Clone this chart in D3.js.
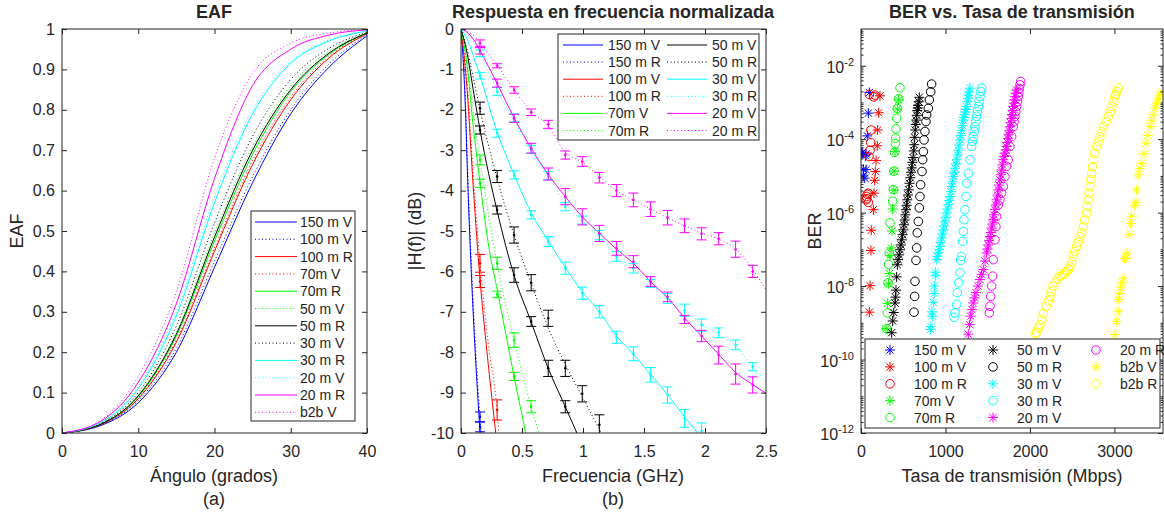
<!DOCTYPE html>
<html>
<head>
<meta charset="utf-8">
<script src="https://cdn.jsdelivr.net/npm/d3@7"></script>
<style>
body{margin:0;background:#fff;}
text{font-family:"Liberation Sans",Arial,Helvetica,sans-serif;fill:#262626;}
</style>
</head>
<body>
<svg id="chart" width="1164" height="513"></svg>
<script>
//--------------------- panel (a) : EAF vs angle
const eafAngle=[0,5,10,15,20,25,30,35,40];
const eaf150mV=[0,0.018,0.075,0.20,0.41,0.62,0.79,0.905,0.983];
const eaf100mV=[0,0.019,0.08,0.21,0.425,0.635,0.80,0.913,0.986];
const eaf100mR=[0,0.02,0.085,0.225,0.45,0.665,0.825,0.928,0.988];
const eaf70mV=[0,0.02,0.087,0.23,0.458,0.675,0.832,0.932,0.989];
const eaf70mR=[0,0.021,0.09,0.24,0.475,0.69,0.845,0.937,0.99];
const eaf50mV=[0,0.022,0.095,0.25,0.495,0.71,0.86,0.945,0.991];
const eaf50mR=[0,0.021,0.092,0.245,0.485,0.70,0.85,0.94,0.99];
const eaf30mV=[0,0.023,0.10,0.265,0.52,0.735,0.875,0.952,0.992];
const eaf30mR=[0,0.025,0.11,0.29,0.57,0.79,0.915,0.97,0.995];
const eaf20mV=[0,0.026,0.115,0.30,0.585,0.80,0.92,0.973,0.996];
const eaf20mR=[0,0.028,0.125,0.32,0.63,0.86,0.95,0.985,0.998];
const eafb2bV=[0,0.03,0.14,0.35,0.68,0.89,0.965,0.99,0.999];
const eafTicksX=[0,10,20,30,40];
const eafTicksY=[0,0.1,0.2,0.3,0.4,0.5,0.6,0.7,0.8,0.9,1];

//--------------------- panel (b) : normalised frequency response
// theory lines (freq GHz, dB)
const f150mV=[0,0.03,0.06,0.09,0.12,0.15,0.16], h150mV=[0,-1.5,-4.2,-6.4,-8.2,-9.7,-10.2];
const f150mR=[0,0.03,0.06,0.09,0.12,0.156,0.17], h150mR=[0,-1.3,-3.9,-6.1,-7.9,-9.6,-10.2];
const f100mV=[0,0.05,0.1,0.156,0.22,0.285], h100mV=[0,-1.5,-3.9,-6.2,-8.2,-10];
const f100mR=[0,0.05,0.1,0.156,0.22,0.296,0.31], h100mR=[0,-1.3,-3.6,-5.8,-7.7,-9.45,-10];
const f70mV=[0,0.05,0.1,0.156,0.232,0.3,0.435,0.53], h70mV=[0,-0.9,-2.4,-3.8,-5.47,-6.5,-8.6,-10];
const f70mR=[0,0.05,0.1,0.156,0.296,0.435,0.575,0.64], h70mR=[0,-0.8,-2.0,-3.24,-5.8,-7.7,-9.35,-10];
const f50mV=[0,0.05,0.1,0.156,0.296,0.435,0.575,0.715,0.855,0.95], h50mV=[0,-0.6,-1.5,-2.5,-4.5,-6.1,-7.25,-8.4,-9.35,-10];
const f50mR=[0,0.05,0.1,0.156,0.296,0.435,0.575,0.715,0.855,0.994,1.15], h50mR=[0,-0.5,-1.2,-2.0,-3.7,-5.1,-6.3,-7.4,-8.3,-9.1,-10];
const f30mV=[0,0.05,0.1,0.156,0.296,0.435,0.575,0.715,0.855,0.994,1.134,1.274,1.413,1.553,1.693,1.832,1.94];
const h30mV=[0,-0.25,-0.65,-1.16,-2.55,-3.6,-4.55,-5.25,-5.9,-6.5,-7.0,-7.6,-8.05,-8.55,-9.05,-9.6,-10];
const f30mR=[0,0.05,0.1,0.156,0.296,0.435,0.575,0.715,0.855,0.994,1.134,1.274,1.413,1.553,1.693,1.832,1.972,2.112,2.251,2.391,2.5];
const h30mR=[0,-0.1,-0.3,-0.6,-1.5,-2.25,-3.0,-3.65,-4.3,-4.75,-5.15,-5.6,-5.95,-6.3,-6.65,-6.95,-7.3,-7.55,-7.85,-8.35,-8.73];
const f20mV=[0,0.05,0.1,0.156,0.296,0.435,0.575,0.715,0.855,0.994,1.134,1.274,1.413,1.553,1.693,1.832,1.972,2.112,2.251,2.391,2.5];
const h20mV=[0,-0.08,-0.25,-0.54,-1.35,-2.2,-2.95,-3.6,-4.15,-4.65,-5.05,-5.45,-5.8,-6.25,-6.65,-7.15,-7.6,-8.05,-8.5,-8.8,-9.02];
const f20mR=[0,0.05,0.1,0.156,0.296,0.435,0.575,0.715,0.855,0.994,1.134,1.274,1.413,1.553,1.693,1.832,1.972,2.112,2.251,2.391,2.5];
const h20mR=[0,-0.05,-0.15,-0.35,-0.9,-1.5,-2.05,-2.4,-3.05,-3.3,-3.65,-4.0,-4.23,-4.45,-4.67,-4.87,-5.05,-5.2,-5.45,-5.95,-6.46];
// measured points (mean dB and half error), at measFreq[0..n-1]
const measFreq=[0.156,0.296,0.435,0.575,0.715,0.855,0.994,1.134,1.274,1.413,1.553,1.693,1.832,1.972,2.112,2.251,2.391];
const m150mV=[-9.85], e150mV=[0.12];
const m150mR=[-9.6], e150mR=[0.12];
const m100mV=[-6.25], e100mV=[0.15];
const m100mR=[-5.8,-9.43], e100mR=[0.22,0.25];
const m70mV=[-3.82,-6.57,-8.6], e70mV=[0.1,0.08,0.1];
const m70mR=[-3.24,-5.8,-7.7,-9.35], e70mR=[0.12,0.15,0.18,0.15];
const m50mV=[-2.5,-4.48,-6.09,-7.24,-8.4,-9.35], e50mV=[0.1,0.1,0.18,0.12,0.2,0.15];
const m50mR=[-1.96,-3.65,-5.1,-6.28,-7.16,-8.4,-9.03,-9.8], e50mR=[0.15,0.15,0.2,0.2,0.2,0.2,0.2,0.25];
const m30mV=[-1.16,-2.58,-3.61,-4.6,-5.26,-5.92,-6.54,-7.0,-7.63,-8.04,-8.56,-9.06,-9.64,-9.95];
const e30mV=[0.08,0.1,0.1,0.1,0.12,0.15,0.15,0.15,0.15,0.17,0.18,0.2,0.22,0.2];
const m30mR=[-0.6,-1.55,-2.2,-2.98,-3.63,-4.4,-4.73,-5.1,-5.63,-5.92,-6.3,-6.67,-6.96,-7.33,-7.52,-7.82,-8.36];
const e30mR=[0.08,0.1,0.1,0.1,0.1,0.1,0.1,0.12,0.12,0.12,0.1,0.12,0.15,0.15,0.12,0.12,0.1];
const m20mV=[-0.54,-1.34,-2.21,-2.95,-3.59,-4.15,-4.65,-5.06,-5.43,-5.76,-6.25,-6.63,-7.19,-7.6,-8.07,-8.54,-8.81];
const e20mV=[0.08,0.1,0.1,0.12,0.15,0.2,0.2,0.2,0.17,0.15,0.12,0.12,0.1,0.14,0.22,0.25,0.2];
const m20mR=[-0.35,-0.91,-1.51,-2.06,-2.36,-3.12,-3.28,-3.68,-4.0,-4.23,-4.46,-4.67,-4.87,-5.07,-5.19,-5.45,-6.0];
const e20mR=[0.08,0.05,0.08,0.08,0.1,0.1,0.12,0.13,0.15,0.17,0.18,0.18,0.17,0.15,0.15,0.2,0.15];
const frTicksX=[0,0.5,1,1.5,2,2.5];
const frTicksY=[0,-1,-2,-3,-4,-5,-6,-7,-8,-9,-10];

//--------------------- panel (c) : BER vs bit rate (rate Mbps, log10 BER)
const r150mV=[99,87,75,60,20,8,60,28,44,28,52];
const b150mV=[-2.73,-3.29,-3.91,-4.40,-4.36,-4.38,-4.83,-4.82,-5.06,-5.0,-4.45];
const r100mV=[225,209,197,193,178,170,162,154,146,122,118,107,99];
const b100mV=[-2.82,-3.28,-3.75,-4.18,-4.58,-4.88,-5.12,-5.47,-5.92,-6.48,-7.03,-7.99,-8.71];
const r100mR=[166,150,99,118,115,107,95,87,75,59,63,87,70];
const b100mR=[-2.8,-2.85,-2.78,-3.75,-4.09,-4.3,-4.47,-5.47,-5.5,-5.65,-5.56,-5.72,-5.62];
const r70mV=[446,430,402,390,390,375,367,359,343,335,327,312,296];
const b70mV=[-2.93,-3.18,-4.33,-4.87,-5.39,-5.9,-6.5,-6.96,-7.17,-7.66,-7.94,-8.47,-9.16];
const r70mR=[461,446,430,422,414,410,406,398,390,383,375,343,335,327,320,312,304];
const b70mR=[-2.6,-2.9,-3.16,-3.43,-3.72,-3.97,-4.12,-4.36,-4.87,-5.37,-5.69,-6.28,-7.10,-7.41,-7.91,-8.73,-9.16];
const r50mV=[690,684,676,672,666,660,654,648,642,636,630,624,616,608,600,592,584,574,564,556,548,540,533,525,517,509,501,492,482,472,462,452,440,430,422,414,408,402,388,375,363];
const b50mV=[-2.86,-2.98,-3.08,-3.15,-3.22,-3.35,-3.48,-3.6,-3.75,-3.95,-4.15,-4.32,-4.5,-4.63,-4.78,-4.9,-5.05,-5.2,-5.38,-5.52,-5.65,-5.8,-5.92,-6.06,-6.2,-6.33,-6.47,-6.6,-6.74,-6.88,-7.01,-7.15,-7.28,-7.42,-7.75,-8.11,-8.3,-8.46,-8.72,-8.95,-9.27];
const r50mR=[836,825,809,797,777,769,757,746,738,730,722,706,698,690,678,666,659,651,639,635,627];
const b50mR=[-2.5,-2.71,-2.93,-3.16,-3.34,-3.52,-3.79,-4.02,-4.34,-4.56,-4.88,-5.24,-5.56,-5.87,-6.24,-6.55,-6.96,-7.30,-7.87,-8.28,-8.71];
const r30mV=[1290,1282,1275,1268,1260,1251,1243,1235,1226,1218,1211,1200,1190,1181,1172,1162,1152,1143,1133,1123,1113,1103,1093,1083,1073,1064,1054,1044,1034,1024,1014,1004,994,985,975,965,955,945,935,925,915,905,896,884,880,868,866,856,844,840,824,828];
const b30mV=[-2.61,-2.72,-2.80,-2.88,-2.98,-3.11,-3.19,-3.26,-3.33,-3.41,-3.48,-3.63,-3.76,-3.90,-4.02,-4.16,-4.30,-4.43,-4.56,-4.67,-4.79,-4.90,-5.02,-5.16,-5.29,-5.43,-5.56,-5.67,-5.78,-5.90,-6.01,-6.13,-6.25,-6.36,-6.47,-6.58,-6.69,-6.81,-6.92,-7.01,-7.10,-7.19,-7.28,-7.72,-7.62,-8.0,-8.2,-8.44,-8.82,-8.7,-9.18,-9.1];
const r30mR=[1428,1420,1408,1398,1388,1378,1369,1359,1349,1339,1329,1320,1310,1290,1270,1251,1243,1231,1219,1211,1203,1188,1180,1172,1156,1140,1132,1112,1101];
const b30mR=[-2.61,-2.7,-2.84,-2.97,-3.11,-3.24,-3.38,-3.52,-3.66,-3.79,-3.93,-4.06,-4.20,-4.56,-4.93,-5.2,-5.56,-5.92,-6.19,-6.51,-6.78,-7.19,-7.3,-7.64,-7.91,-8.18,-8.5,-8.73,-8.85];
const r20mV=[1842,1834,1826,1818,1810,1803,1795,1787,1779,1771,1763,1755,1747,1740,1732,1724,1714,1704,1694,1684,1674,1664,1655,1645,1635,1625,1615,1605,1595,1586,1576,1566,1556,1546,1537,1527,1517,1507,1497,1487,1468,1448,1428,1408,1385,1361,1345,1329,1314,1298,1284,1270];
const b20mV=[-2.66,-2.75,-2.84,-2.93,-3.02,-3.11,-3.22,-3.33,-3.44,-3.55,-3.66,-3.77,-3.88,-3.98,-4.09,-4.20,-4.29,-4.38,-4.47,-4.56,-4.70,-4.84,-4.97,-5.11,-5.25,-5.38,-5.52,-5.65,-5.79,-5.92,-6.06,-6.19,-6.31,-6.42,-6.54,-6.65,-6.76,-6.88,-6.99,-7.10,-7.32,-7.55,-7.68,-7.82,-8.0,-8.18,-8.32,-8.46,-8.64,-8.82,-9.05,-9.31];
const r20mR=[1890,1882,1874,1868,1862,1852,1842,1832,1822,1812,1803,1783,1763,1743,1724,1704,1684,1664,1645,1625,1605,1597,1586,1566,1558,1546,1534,1527,1519];
const b20mR=[-2.43,-2.52,-2.62,-2.72,-2.84,-2.97,-3.11,-3.25,-3.38,-3.52,-3.66,-3.93,-4.20,-4.56,-4.74,-5.02,-5.29,-5.47,-5.65,-5.79,-6.10,-6.38,-6.74,-7.28,-7.73,-8.0,-8.28,-8.55,-8.73];
const rb2bV=[3558,3540,3520,3499,3480,3460,3440,3420,3395,3373,3350,3322,3300,3282,3262,3255,3240,3204,3190,3176,3150,3136,3120,3105,3090,3074,3060,3050,3045,3026,3006];
const bb2bV=[-2.71,-2.8,-2.9,-3.02,-3.15,-3.34,-3.5,-3.66,-3.9,-4.11,-4.4,-4.66,-4.8,-4.97,-5.38,-5.72,-5.8,-6.10,-6.3,-6.6,-7.1,-7.24,-7.25,-7.78,-7.9,-8.03,-8.2,-8.37,-8.69,-8.96,-9.32];
const rb2bR=[3045,3030,3015,3006,2990,2967,2950,2927,2900,2868,2848,2828,2808,2789,2769,2750,2740,2730,2720,2710,2700,2690,2680,2671,2650,2631,2612,2592,2572,2552,2530,2512,2493,2473,2455,2434,2410,2380,2355,2330,2300,2276,2250,2237,2217,2190,2158,2140,2118,2100,2080,2062];
const bb2bR=[-2.61,-2.7,-2.78,-2.84,-2.98,-3.11,-3.25,-3.38,-3.52,-3.66,-3.8,-3.93,-4.06,-4.2,-4.38,-4.56,-4.75,-4.93,-5.1,-5.29,-5.47,-5.65,-5.83,-6.01,-6.2,-6.38,-6.55,-6.65,-6.8,-6.92,-7.06,-7.19,-7.33,-7.46,-7.55,-7.6,-7.66,-7.7,-7.73,-7.8,-7.9,-8.0,-8.15,-8.28,-8.4,-8.55,-8.75,-8.91,-9.05,-9.15,-9.27,-9.3];
const berTicksX=[0,1000,2000,3000];
const berTicksY=[-12,-10,-8,-6,-4,-2];

//--------------------- common stuff
const ink="#262626";
const col={b:"#0000ff",r:"#ff0000",g:"#00ff00",k:"#000000",c:"#00ffff",m:"#ff00ff",y:"#ffff00"};
const dotted="1,2.5";
const tickFont=16, labFont=18, legFont=14;
let svg=d3.select("#chart");

function addText(g,x,y,str,size,opt){
  opt=opt||{};
  return g.append("text").attr("x",x).attr("y",y).attr("font-size",size)
    .attr("text-anchor",opt.anchor||"middle").attr("font-weight",opt.bold?"bold":null)
    .attr("transform",opt.rot?`rotate(-90,${x},${y})`:null).text(str);
}

// restyle a d3 axis group after .call()
function styleAxis(a){
  a.attr("font-size",tickFont).attr("font-family",null).attr("color",ink);
  a.select(".domain").remove();
  return a;
}

// frame with inward ticks on the four sides (box on)
function axesBox(g,x,y,w,h,xt,yt,xf,yf){
  styleAxis(g.append("g").attr("transform",`translate(0,${h})`).call(d3.axisBottom(x).tickValues(xt).tickSize(-5).tickPadding(13).tickFormat(xf)));
  styleAxis(g.append("g").call(d3.axisTop(x).tickValues(xt).tickSize(-5).tickFormat("")));
  styleAxis(g.append("g").call(d3.axisLeft(y).tickValues(yt).tickSize(-5).tickPadding(7).tickFormat(yf)));
  styleAxis(g.append("g").attr("transform",`translate(${w},0)`).call(d3.axisRight(y).tickValues(yt).tickSize(-5).tickFormat("")));
  g.append("rect").attr("width",w).attr("height",h).attr("fill","none").attr("stroke",ink).attr("stroke-width",1);
}

function clipFor(id,w,h){
  svg.append("clipPath").attr("id",id).append("rect").attr("width",w).attr("height",h);
  return "url(#"+id+")";
}

//--------------------- (a)
{
  let L=62,T=29,W=305,H=404;
  let g=svg.append("g").attr("transform",`translate(${L},${T})`);
  let x=d3.scaleLinear().domain([0,40]).range([0,W]);
  let y=d3.scaleLinear().domain([0,1]).range([H,0]);
  let series=[
    ["150 m V",eaf150mV,"b",false],["100 m V",eaf100mV,"b",true],
    ["100 m R",eaf100mR,"r",false],["70m V",eaf70mV,"r",true],
    ["70m R",eaf70mR,"g",false],["50 m V",eaf50mV,"g",true],
    ["50 m R",eaf50mR,"k",false],["30 m V",eaf30mV,"k",true],
    ["30 m R",eaf30mR,"c",false],["20 m V",eaf20mV,"c",true],
    ["20 m R",eaf20mR,"m",false],["b2b V",eafb2bV,"m",true]
  ];
  let line=d3.line().x((d,i)=>x(eafAngle[i])).y(d=>y(d)).curve(d3.curveMonotoneX);
  let plot=g.append("g").attr("clip-path",clipFor("clipA",W,H));
  series.forEach(s=>{
    plot.append("path").attr("d",line(s[1])).attr("fill","none").attr("stroke",col[s[2]])
      .attr("stroke-width",1).attr("stroke-dasharray",s[3]?dotted:null);
  });
  axesBox(g,x,y,W,H,eafTicksX,eafTicksY,d=>String(d),d=>String(d));
  addText(svg,214,18,"EAF",labFont,{bold:true});
  addText(svg,214,482,"Ángulo (grados)",labFont);
  addText(svg,214,505,"(a)",labFont);
  addText(svg,23,231,"EAF",labFont,{rot:true});
  // legend
  let lg=svg.append("g").attr("transform","translate(251,211)");
  lg.append("rect").attr("width",104).attr("height",210).attr("fill","#fff").attr("stroke",ink);
  series.forEach((s,i)=>{
    let yy=11+i*17.3;
    lg.append("line").attr("x1",4).attr("x2",46).attr("y1",yy).attr("y2",yy).attr("stroke",col[s[2]])
      .attr("stroke-dasharray",s[3]?dotted:null);
    lg.append("text").attr("x",49).attr("y",yy+5).attr("font-size",legFont).text(s[0]);
  });
}

//--------------------- (b)
{
  let L=461,T=29,W=305,H=404;
  let g=svg.append("g").attr("transform",`translate(${L},${T})`);
  let x=d3.scaleLinear().domain([0,2.5]).range([0,W]);
  let y=d3.scaleLinear().domain([-10,0]).range([H,0]);
  let series=[
    ["150 m V",f150mV,h150mV,m150mV,e150mV,"b",false],["150 m R",f150mR,h150mR,m150mR,e150mR,"b",true],
    ["100 m V",f100mV,h100mV,m100mV,e100mV,"r",false],["100 m R",f100mR,h100mR,m100mR,e100mR,"r",true],
    ["70m V",f70mV,h70mV,m70mV,e70mV,"g",false],["70m R",f70mR,h70mR,m70mR,e70mR,"g",true],
    ["50 m V",f50mV,h50mV,m50mV,e50mV,"k",false],["50 m R",f50mR,h50mR,m50mR,e50mR,"k",true],
    ["30 m V",f30mV,h30mV,m30mV,e30mV,"c",false],["30 m R",f30mR,h30mR,m30mR,e30mR,"c",true],
    ["20 m V",f20mV,h20mV,m20mV,e20mV,"m",false],["20 m R",f20mR,h20mR,m20mR,e20mR,"m",true]
  ];
  let plot=g.append("g").attr("clip-path",clipFor("clipB",W,H));
  series.forEach(s=>{
    let line=d3.line().x((d,i)=>x(s[1][i])).y(d=>y(d)).curve(d3.curveMonotoneX);
    plot.append("path").attr("d",line(s[2])).attr("fill","none").attr("stroke",col[s[5]])
      .attr("stroke-width",1).attr("stroke-dasharray",s[6]?dotted:null);
  });
  // error bars
  series.forEach(s=>{
    let c=col[s[5]];
    s[3].forEach((v,i)=>{
      let xx=x(measFreq[i]), y1=y(v+s[4][i]), y2=y(v-s[4][i]);
      let eb=plot.append("g").attr("stroke",c).attr("stroke-width",1);
      eb.append("line").attr("x1",xx).attr("x2",xx).attr("y1",y1).attr("y2",y2);
      eb.append("line").attr("x1",xx-5).attr("x2",xx+5).attr("y1",y1).attr("y2",y1);
      eb.append("line").attr("x1",xx-5).attr("x2",xx+5).attr("y1",y2).attr("y2",y2);
      plot.append("circle").attr("cx",xx).attr("cy",y(v)).attr("r",1.3).attr("fill",c);
    });
  });
  axesBox(g,x,y,W,H,frTicksX,frTicksY,d=>String(d),d=>String(d));
  addText(svg,613,18,"Respuesta en frecuencia normalizada",labFont,{bold:true});
  addText(svg,613,482,"Frecuencia (GHz)",labFont);
  addText(svg,613,505,"(b)",labFont);
  addText(svg,421,231,"|H(f)| (dB)",labFont,{rot:true});
  let lg=svg.append("g").attr("transform","translate(558,34)");
  lg.append("rect").attr("width",201).attr("height",106).attr("fill","#fff").attr("stroke",ink);
  series.forEach((s,i)=>{
    let cx=i<6?5:109, yy=11+(i%6)*17.1;
    lg.append("line").attr("x1",cx).attr("x2",cx+40).attr("y1",yy).attr("y2",yy).attr("stroke",col[s[5]])
      .attr("stroke-dasharray",s[6]?dotted:null);
    lg.append("text").attr("x",cx+45).attr("y",yy+5).attr("font-size",legFont).text(s[0]);
  });
}

//--------------------- (c)
function star(s){
  let d=s*0.72;
  return `M${-s},0L${s},0M0,${-s}L0,${s}M${-d},${-d}L${d},${d}M${-d},${d}L${d},${-d}`;
}
function drawMarker(g,x,y,mk,c){
  if(mk=="*") g.append("path").attr("d",star(5)).attr("transform",`translate(${x},${y})`)
    .attr("stroke",c).attr("fill","none").attr("stroke-width",1);
  else g.append("circle").attr("cx",x).attr("cy",y).attr("r",4.3).attr("fill","none")
    .attr("stroke",c).attr("stroke-width",1);
}
{
  let L=861,T=29,W=302,H=404;
  let g=svg.append("g").attr("transform",`translate(${L},${T})`);
  let x=d3.scaleLinear().domain([0,3575]).range([0,W]);
  let y=d3.scaleLog().domain([1e-12,1e-1]).range([H,0]);
  let series=[
    ["150 m V",r150mV,b150mV,"b","*"],["100 m V",r100mV,b100mV,"r","*"],["100 m R",r100mR,b100mR,"r","o"],
    ["70m V",r70mV,b70mV,"g","*"],["70m R",r70mR,b70mR,"g","o"],
    ["50 m V",r50mV,b50mV,"k","*"],["50 m R",r50mR,b50mR,"k","o"],
    ["30 m V",r30mV,b30mV,"c","*"],["30 m R",r30mR,b30mR,"c","o"],
    ["20 m V",r20mV,b20mV,"m","*"],["20 m R",r20mR,b20mR,"m","o"],
    ["b2b V",rb2bV,bb2bV,"y","*"],["b2b R",rb2bR,bb2bR,"y","o"]
  ];
  let plot=g.append("g").attr("clip-path",clipFor("clipC",W,H));
  series.forEach(s=>{
    s[1].forEach((r,i)=>drawMarker(plot,x(r),y(Math.pow(10,s[2][i])),s[4],col[s[3]]));
  });
  // log axes: labelled decades + minor ticks
  let major=berTicksY.map(e=>Math.pow(10,e));
  let minor=[];
  for(let e=-12;e<-1;e++) for(let k=1;k<10;k++){
    let v=k*Math.pow(10,e);
    if(!(k==1 && berTicksY.includes(e))) minor.push(v);
  }
  let fmt=()=>"";
  [[d3.axisLeft,0],[d3.axisRight,W]].forEach(([ax,tx])=>{
    styleAxis(g.append("g").attr("transform",`translate(${tx},0)`).call(ax(y).tickValues(minor).tickSize(-2.5).tickFormat(fmt)));
    styleAxis(g.append("g").attr("transform",`translate(${tx},0)`).call(ax(y).tickValues(major).tickSize(-5).tickFormat(fmt)));
  });
  [[d3.axisBottom,H],[d3.axisTop,0]].forEach(([ax,ty])=>{
    styleAxis(g.append("g").attr("transform",`translate(0,${ty})`)
      .call(ax(x).tickValues(berTicksX).tickSize(-5).tickPadding(13).tickFormat(ty?d=>String(d):fmt)));
  });
  g.append("rect").attr("width",W).attr("height",H).attr("fill","none").attr("stroke",ink);
  berTicksY.forEach(e=>{
    let t=g.append("text").attr("x",-7).attr("y",y(Math.pow(10,e))+7).attr("font-size",tickFont).attr("text-anchor","end");
    t.append("tspan").text("10");
    t.append("tspan").attr("dy",-7).attr("font-size",11).text(e);
  });
  addText(svg,1012,18,"BER vs. Tasa de transmisión",labFont,{bold:true});
  addText(svg,1012,482,"Tasa de transmisión (Mbps)",labFont);
  addText(svg,821,231,"BER",labFont,{rot:true});
  let lg=svg.append("g").attr("transform","translate(865,339)");
  lg.append("rect").attr("width",295).attr("height",89).attr("fill","#fff").attr("stroke",ink);
  series.forEach((s,i)=>{
    let c=Math.floor(i/5), r=i%5;
    let mx=25+c*103, yy=11+r*16.9;
    drawMarker(lg,mx,yy,s[4],col[s[3]]);
    lg.append("text").attr("x",mx+24).attr("y",yy+5).attr("font-size",legFont).text(s[0]);
  });
}
</script>
</body>
</html>
